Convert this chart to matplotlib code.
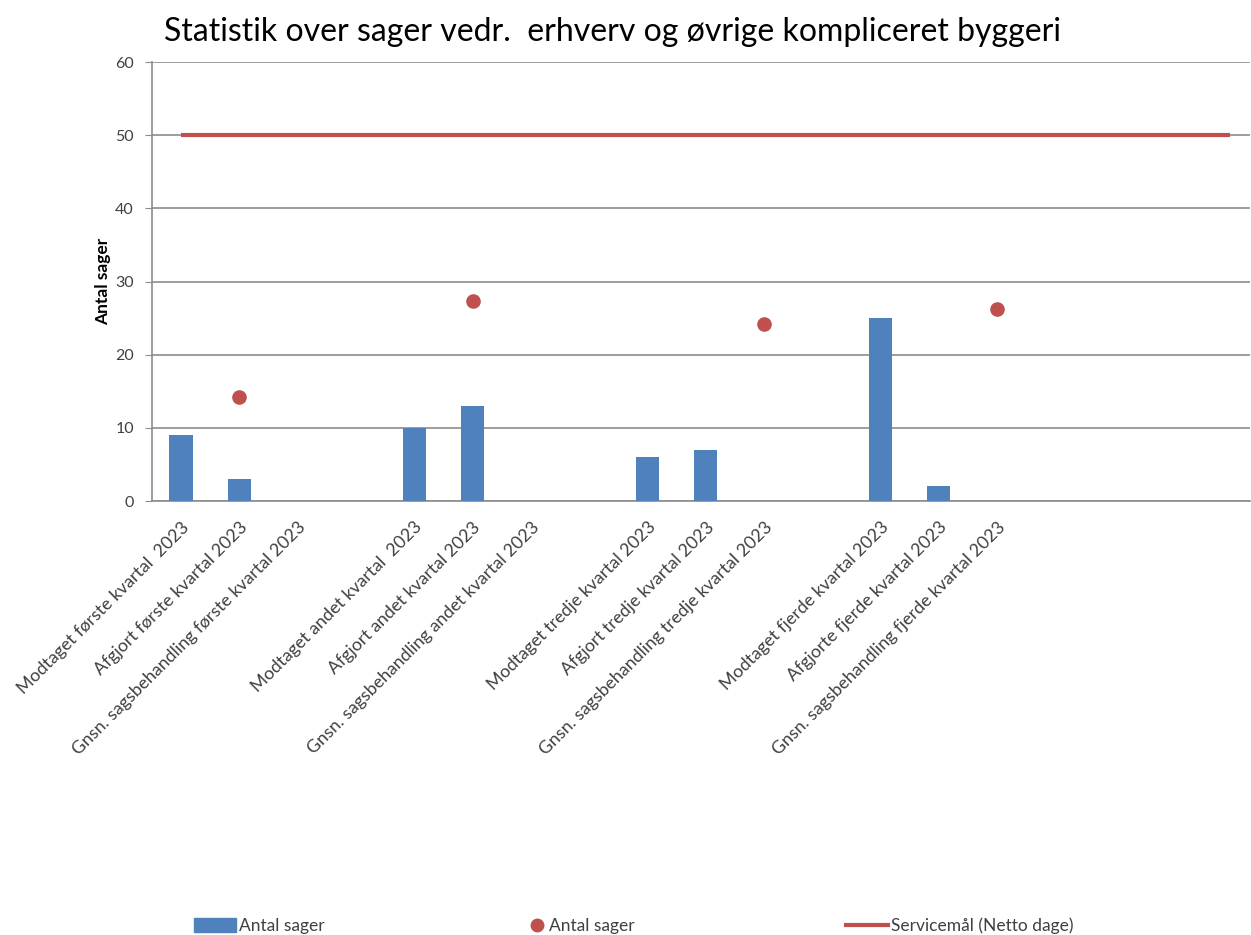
import matplotlib
matplotlib.use("Agg")
import matplotlib.pyplot as plt
from matplotlib.patches import Patch
from matplotlib.lines import Line2D
import numpy as np

plt.rcParams['font.family'] = ['Lato', 'DejaVu Sans']

categories = [
    "Modtaget første kvartal  2023",
    "Afgjort første kvartal 2023",
    "Gnsn. sagsbehandling første kvartal 2023",
    "",
    "Modtaget andet kvartal  2023",
    "Afgjort andet kvartal 2023",
    "Gnsn. sagsbehandling andet kvartal 2023",
    "",
    "Modtaget tredje kvartal 2023",
    "Afgjort tredje kvartal 2023",
    "Gnsn. sagsbehandling tredje kvartal 2023",
    "",
    "Modtaget fjerde kvartal 2023",
    "Afgjorte fjerde kvartal 2023",
    "Gnsn. sagsbehandling fjerde kvartal 2023",
    "", "", "", "",
]
bar_values = [9, 3, None, None, 10, 13, None, None, 6, 7, None, None, 25, 2, None, None, None, None, None]
dot_values = [None, 14.2, None, None, None, 27.3, None, None, None, None, 24.2, None, None, None, 26.2, None, None, None, None]
service_goal = [50] * 19

BLUE = "#4F81BD"
RED = "#C0504D"
GRID = "#8C8C8C"
TXT = "#404040"

fig = plt.figure(figsize=(12.51, 9.35), dpi=100)
ax = fig.add_axes([152/1251, 1 - 501/935, 1098/1251, 439/935])

x = np.arange(len(categories))
bx = [i for i, v in zip(x, bar_values) if v is not None]
bv = [v for v in bar_values if v is not None]
ax.bar(bx, bv, width=0.4, color=BLUE, zorder=3)

dx = [i for i, v in zip(x, dot_values) if v is not None]
dv = [v for v in dot_values if v is not None]
ax.plot(dx, dv, 'o', color=RED, ms=9.5, zorder=4, linestyle='none')

ax.plot(x, service_goal, color=RED, lw=3, zorder=4, solid_capstyle='butt')

ax.set_ylim(0, 60)
ax.set_yticks(range(0, 61, 10))
ax.set_xlim(-0.5, 18.34)
ax.set_xticks(x)
ax.set_xticklabels(categories, rotation=45, ha='right', rotation_mode='anchor', fontsize=12.8, color=TXT)
ax.tick_params(axis='x', length=0, pad=13)
ax.tick_params(axis='y', length=5, color=GRID, labelsize=11.5, labelcolor=TXT, pad=8)
ax.yaxis.grid(True, color=GRID, lw=1.2, zorder=0)
ax.set_axisbelow(True)
for s in ['top', 'right']:
    ax.spines[s].set_visible(False)
for s in ['left', 'bottom']:
    ax.spines[s].set_color(GRID)
    ax.spines[s].set_linewidth(1.2)

ax.set_ylabel("Antal sager", fontsize=12.5, fontweight='bold', labelpad=3)

fig.text(612/1251, 1 - 32/935, "Statistik over sager vedr.  erhverv og øvrige kompliceret byggeri",
         ha='center', va='center', fontsize=23, color='black')

ly = 1 - 926/935
h1 = Patch(facecolor=BLUE, edgecolor=BLUE)
h2 = Line2D([], [], marker='o', color=RED, ms=9, linestyle='none')
h3 = Line2D([], [], color=RED, lw=3)
for h, lab, xpos, hl in [(h1, "Antal sager", 194, 2.4), (h2, "Antal sager", 528, 1.0), (h3, "Servicemål (Netto dage)", 846, 2.4)]:
    leg = fig.legend(handles=[h], labels=[lab], loc='center left', bbox_to_anchor=(xpos/1251, ly),
                     frameon=False, fontsize=12.5, handlelength=hl, handletextpad=0.2,
                     borderpad=0, borderaxespad=0, handleheight=0.8)
    for t in leg.get_texts():
        t.set_color(TXT)

fig.savefig("out.png", dpi=100, facecolor='white')
